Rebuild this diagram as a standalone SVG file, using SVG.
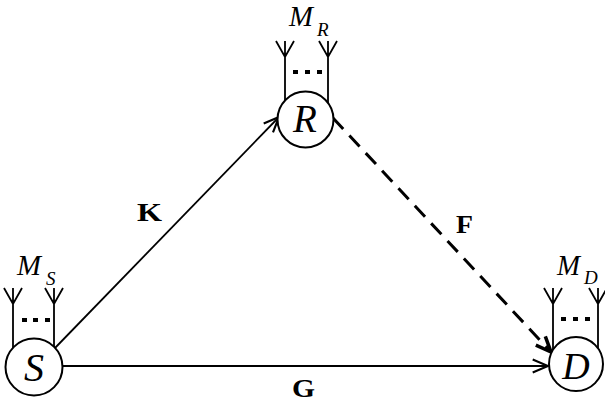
<svg xmlns="http://www.w3.org/2000/svg" width="605" height="405" viewBox="0 0 605 405">
<defs>
<style>
.node{fill:#fff;stroke:#000;stroke-width:2}
.ant{fill:none;stroke:#000;stroke-width:1.8}
.dot{fill:#000}
.edge{fill:none;stroke:#000;stroke-width:1.8}
.dash{fill:none;stroke:#000;stroke-width:3;stroke-dasharray:15 9}
.it{font-family:"Liberation Serif","Times New Roman",serif;font-style:italic;fill:#000}
.bd{font-family:"Liberation Serif","Times New Roman",serif;font-weight:bold;fill:#000}
</style>
<marker id="arr" markerUnits="userSpaceOnUse" markerWidth="20" markerHeight="20" viewBox="-15 -8 17 16" refX="0" refY="0" orient="auto">
<path d="M-13,-5.5 L0,0 L-13,5.5" fill="none" stroke="#000" stroke-width="1.8"/>
</marker>
<marker id="arrB" markerUnits="userSpaceOnUse" markerWidth="20" markerHeight="20" viewBox="-15 -8 17 16" refX="0" refY="0" orient="auto">
<path d="M-13,-5.5 L0,0 L-13,5.5" fill="none" stroke="#000" stroke-width="3"/>
</marker>
</defs>
<g id="connectors">
<line class="edge" x1="55" y1="348" x2="279" y2="117" marker-end="url(#arr)"/>
<line class="edge" x1="62.5" y1="366" x2="548" y2="366" marker-end="url(#arr)"/>
<line class="dash" x1="333" y1="118" x2="551" y2="352" marker-end="url(#arrB)"/>
<text class="bd" x="137" y="221" font-size="26" textLength="25" lengthAdjust="spacingAndGlyphs">K</text>
<text class="bd" x="456" y="233" font-size="26" textLength="17" lengthAdjust="spacingAndGlyphs">F</text>
<text class="bd" x="292" y="397" font-size="25" textLength="23" lengthAdjust="spacingAndGlyphs">G</text>
</g>
<g id="node-R">
<path class="ant" d="M285,41 V101 M276,41 L285,57 L294,41 M328,41 V103 M319,41 L328,57 L337,41"/>
<rect class="dot" x="293" y="70" width="5" height="4"/>
<rect class="dot" x="305" y="70" width="5" height="4"/>
<rect class="dot" x="317" y="70" width="5" height="4"/>
<circle class="node" cx="305.5" cy="119.5" r="28"/>
<text class="it" x="305" y="132" font-size="39" text-anchor="middle">R</text>
<text class="it" x="289" y="26" font-size="29" textLength="24" lengthAdjust="spacingAndGlyphs">M</text>
<text class="it" x="317" y="36" font-size="19">R</text>
</g>
<g id="node-S">
<path class="ant" d="M13,288 V348 M4,288 L13,304 L22,288 M54,288 V347 M45,288 L54,304 L63,288"/>
<rect class="dot" x="22" y="318" width="5" height="4"/>
<rect class="dot" x="33" y="318" width="5" height="4"/>
<rect class="dot" x="45" y="318" width="5" height="4"/>
<circle class="node" cx="34" cy="367" r="28.5"/>
<text class="it" x="34" y="381" font-size="40" text-anchor="middle">S</text>
<text class="it" x="17" y="275" font-size="30" textLength="24" lengthAdjust="spacingAndGlyphs">M</text>
<text class="it" x="46" y="285" font-size="19">S</text>
</g>
<g id="node-D">
<path class="ant" d="M553,288 V350 M544,288 L553,304 L562,288 M598,288 V349 M589,288 L598,304 L607,288"/>
<rect class="dot" x="561" y="317" width="5" height="4"/>
<rect class="dot" x="573" y="317" width="5" height="4"/>
<rect class="dot" x="585" y="317" width="5" height="4"/>
<circle class="node" cx="576" cy="364" r="27"/>
<text class="it" x="576" y="379" font-size="38" text-anchor="middle">D</text>
<text class="it" x="557" y="275" font-size="30" textLength="23" lengthAdjust="spacingAndGlyphs">M</text>
<text class="it" x="584" y="284" font-size="19">D</text>
</g>
</svg>
